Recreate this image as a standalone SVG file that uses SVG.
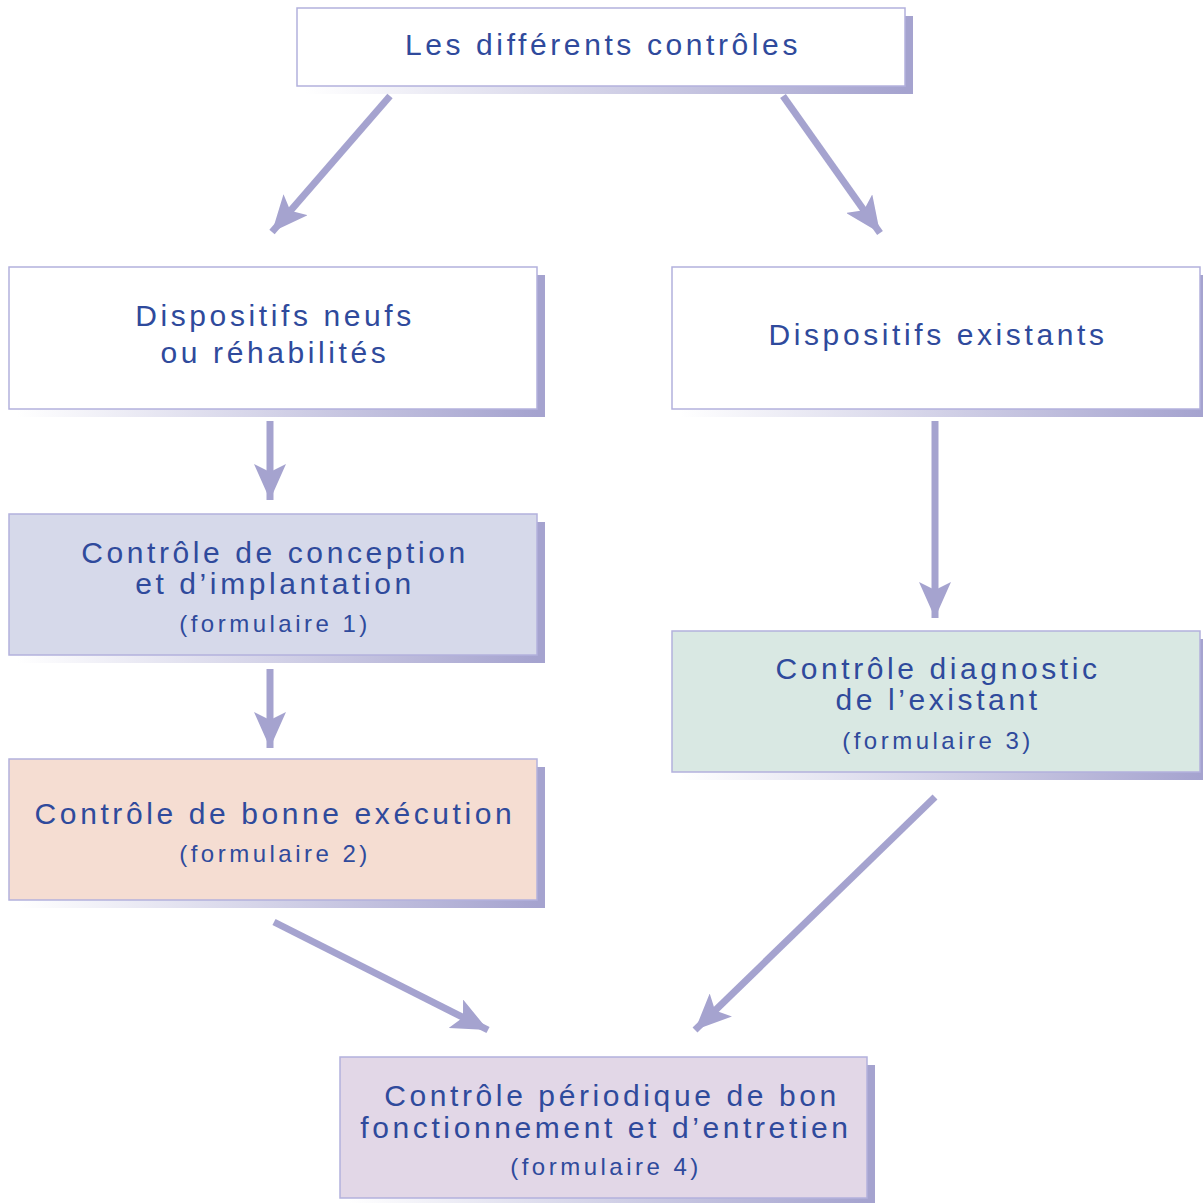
<svg xmlns="http://www.w3.org/2000/svg" width="1203" height="1203" viewBox="0 0 1203 1203">
<defs>
<linearGradient id="sh" x1="0" y1="0" x2="1" y2="0">
<stop offset="0" stop-color="#a5a3cf" stop-opacity="0"/>
<stop offset="1" stop-color="#a5a3cf"/>
</linearGradient>
<marker id="ah" markerUnits="userSpaceOnUse" markerWidth="38" markerHeight="32" refX="36" refY="16" orient="auto">
<path d="M0,0 L36,16 L0,32 L8,16 Z" fill="#a5a3cf"/>
</marker>
<style>
.box{stroke:#b3b1dd;stroke-width:1.5}
.shr{fill:#a5a3cf}
.shb{fill:url(#sh)}
text{font-family:"Liberation Sans",Arial,sans-serif;fill:#2f4a9c;text-anchor:middle}
.t{font-size:30px;letter-spacing:3.6px}
.s{font-size:24px;letter-spacing:3.5px}
.c{stroke:#a5a3cf;stroke-width:7;fill:none;marker-end:url(#ah)}
</style>
</defs>
<g id="connectors">
<line class="c" x1="390" y1="96" x2="272" y2="232"/>
<line class="c" x1="783" y1="96" x2="880" y2="233"/>
<line class="c" x1="270" y1="421" x2="270" y2="500"/>
<line class="c" x1="270" y1="669" x2="270" y2="748"/>
<line class="c" x1="935" y1="421" x2="935" y2="618"/>
<line class="c" x1="274" y1="922" x2="488" y2="1030"/>
<line class="c" x1="935" y1="797" x2="695" y2="1030"/>
</g>
<g id="n-top">
<rect class="shr" x="905" y="16" width="8" height="78"/>
<rect class="shb" x="305" y="86" width="600" height="8"/>
<rect class="box" x="297" y="8" width="608" height="78" fill="#ffffff"/>
<text class="t" x="603" y="55">Les différents contrôles</text>
</g>
<g id="n-neufs">
<rect class="shr" x="537" y="275" width="8" height="142"/>
<rect class="shb" x="17" y="409" width="520" height="8"/>
<rect class="box" x="9" y="267" width="528" height="142" fill="#ffffff"/>
<text class="t" x="275" y="326">Dispositifs neufs</text>
<text class="t" x="275" y="363">ou réhabilités</text>
</g>
<g id="n-existants">
<rect class="shr" x="1200" y="275" width="3" height="142"/>
<rect class="shb" x="680" y="409" width="520" height="8"/>
<rect class="box" x="672" y="267" width="528" height="142" fill="#ffffff"/>
<text class="t" x="938" y="345">Dispositifs existants</text>
</g>
<g id="n-conception">
<rect class="shr" x="537" y="522" width="8" height="141"/>
<rect class="shb" x="17" y="655" width="520" height="8"/>
<rect class="box" x="9" y="514" width="528" height="141" fill="#d6d9ea"/>
<text class="t" x="275" y="563">Contrôle de conception</text>
<text class="t" x="275" y="594">et d’implantation</text>
<text class="s" x="275" y="632">(formulaire 1)</text>
</g>
<g id="n-execution">
<rect class="shr" x="537" y="767" width="8" height="141"/>
<rect class="shb" x="17" y="900" width="520" height="8"/>
<rect class="box" x="9" y="759" width="528" height="141" fill="#f5ddd2"/>
<text class="t" x="275" y="824">Contrôle de bonne exécution</text>
<text class="s" x="275" y="862">(formulaire 2)</text>
</g>
<g id="n-diagnostic">
<rect class="shr" x="1200" y="639" width="3" height="141"/>
<rect class="shb" x="680" y="772" width="520" height="8"/>
<rect class="box" x="672" y="631" width="528" height="141" fill="#d9e8e3"/>
<text class="t" x="938" y="679">Contrôle diagnostic</text>
<text class="t" x="938" y="710">de l’existant</text>
<text class="s" x="938" y="749">(formulaire 3)</text>
</g>
<g id="n-periodique">
<rect class="shr" x="867" y="1065" width="8" height="138"/>
<rect class="shb" x="348" y="1198" width="519" height="5"/>
<rect class="box" x="340" y="1057" width="527" height="141" fill="#e2d7e7"/>
<text class="t" x="612" y="1106">Contrôle périodique de bon</text>
<text class="t" x="606" y="1138">fonctionnement et d’entretien</text>
<text class="s" x="606" y="1175">(formulaire 4)</text>
</g>
</svg>
